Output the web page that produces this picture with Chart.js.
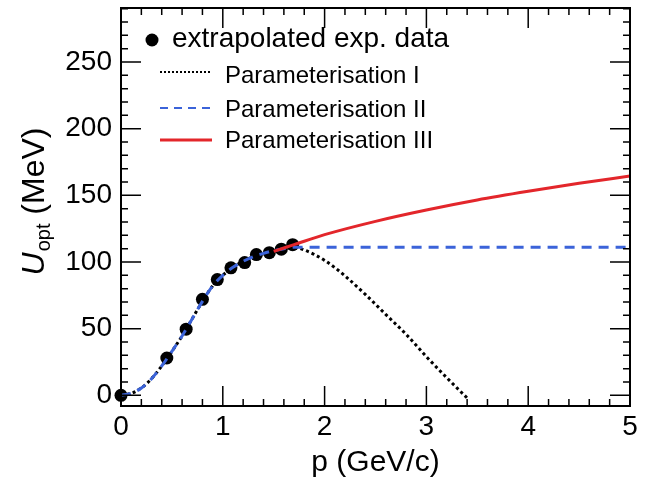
<!DOCTYPE html>
<html>
<head>
<meta charset="utf-8">
<script src="https://cdn.jsdelivr.net/npm/chart.js@4"></script>
<style>
html, body { margin: 0; padding: 0; background: #fff; }
</style>
</head>
<body>
<canvas id="myChart" width="651" height="484"></canvas>
<script>
var fontName = "'Liberation Sans', Helvetica, Arial, sans-serif";
var blueColor = "#3b63d9";
var redColor = "#e3262b";

// extrapolated experimental points
var expP = [0, 0.45, 0.64, 0.80, 0.946, 1.08, 1.215, 1.33, 1.457, 1.575, 1.686];
var expU = [0, 28, 49.6, 72, 86.8, 95.6, 99.6, 105.6, 107, 109.6, 113];

// common part of parameterisations I and II (p < 1.7)
var lowP = [0, 0.1, 0.2, 0.3, 0.4, 0.5, 0.6, 0.7, 0.8, 0.9, 1.0, 1.1, 1.2, 1.3, 1.4, 1.5, 1.6, 1.7];
var lowU = [0, 1.5, 5.5, 12.5, 22, 33, 44.5, 57.5, 70.5, 82, 90, 96, 100.5, 104, 106.5, 108.5, 110, 111];

// parameterisation I, falling part
var par1P = [1.75, 1.8, 1.9, 2.0, 2.1, 2.2, 2.4, 2.6, 2.8, 3.0, 3.2, 3.4];
var par1U = [110.3, 109, 105.6, 101.2, 95.8, 89.6, 75.7, 60.7, 45.8, 29, 13.2, -2];

// parameterisation II, flat part
var par2P = [3.0, 5.0];
var par2U = [111, 111];

// parameterisation III
var par3P = [1.5, 1.7, 2.0, 2.5, 3.0, 3.5, 4.0, 4.5, 5.0];
var par3U = [108, 113, 120.5, 130.5, 139, 146.5, 153, 159, 164.5];

var xTicks = [0, 1, 2, 3, 4, 5];
var yTicks = [0, 50, 100, 150, 200, 250];

function toXY(xs, ys) {
    return xs.map(function (x, i) { return { x: x, y: ys[i] }; });
}

var framePlugin = {
    id: "frame",
    afterDraw: function (chart) {
        var ctx = chart.ctx;
        var a = chart.chartArea;
        var sx = chart.scales.x;
        var sy = chart.scales.y;
        ctx.save();
        ctx.strokeStyle = "#000";
        ctx.lineWidth = 1.5;
        ctx.beginPath();
        // x ticks, every 0.2, major every 1
        for (var i = 0; i <= 25; i++) {
            var px = sx.getPixelForValue(i * 0.2);
            var len = (i % 5 === 0) ? 20 : 7;
            ctx.moveTo(px, a.bottom); ctx.lineTo(px, a.bottom - len);
            ctx.moveTo(px, a.top); ctx.lineTo(px, a.top + len);
        }
        // y ticks, every 10, major every 50
        for (var j = 0; j <= 29; j++) {
            var py = sy.getPixelForValue(j * 10);
            var len2 = (j % 5 === 0) ? 20 : 7;
            ctx.moveTo(a.left, py); ctx.lineTo(a.left + len2, py);
            ctx.moveTo(a.right, py); ctx.lineTo(a.right - len2, py);
        }
        ctx.stroke();
        ctx.lineWidth = 2;
        ctx.strokeRect(a.left, a.top, a.right - a.left, a.bottom - a.top);

        // legend
        ctx.fillStyle = "#000";
        ctx.beginPath();
        ctx.arc(152, 40, 6.5, 0, Math.PI * 2);
        ctx.fill();
        ctx.textBaseline = "alphabetic";
        ctx.textAlign = "left";
        ctx.font = "28px " + fontName;
        ctx.fillText("extrapolated exp. data", 172, 47);

        ctx.font = "24px " + fontName;
        ctx.lineWidth = 2;
        ctx.setLineDash([2, 2]);
        ctx.beginPath(); ctx.moveTo(160, 72); ctx.lineTo(211, 72); ctx.stroke();
        ctx.fillText("Parameterisation I", 225, 83);

        ctx.strokeStyle = blueColor;
        ctx.setLineDash([8, 6]);
        ctx.beginPath(); ctx.moveTo(160, 108); ctx.lineTo(212, 108); ctx.stroke();
        ctx.fillText("Parameterisation II", 225, 117);

        ctx.strokeStyle = redColor;
        ctx.lineWidth = 3;
        ctx.setLineDash([]);
        ctx.beginPath(); ctx.moveTo(160, 140); ctx.lineTo(212, 140); ctx.stroke();
        ctx.fillText("Parameterisation III", 225, 148);

        // y axis title with subscript
        var mainFont = "32px " + fontName;
        var itFont = "italic 32px " + fontName;
        var subFont = "20px " + fontName;
        ctx.font = itFont; var wU = ctx.measureText("U").width;
        ctx.font = subFont; var wS = ctx.measureText("opt").width;
        ctx.font = mainFont; var wR = ctx.measureText(" (MeV)").width;
        var total = wU + wS + wR;
        ctx.translate(44, 202);
        ctx.rotate(-Math.PI / 2);
        var x0 = -total / 2;
        ctx.font = itFont; ctx.fillText("U", x0, 0);
        ctx.font = subFont; ctx.fillText("opt", x0 + wU + 1, 6);
        ctx.font = mainFont; ctx.fillText(" (MeV)", x0 + wU + wS + 1, 0);
        ctx.restore();
    }
};

new Chart("myChart", {
    type: "scatter",
    data: {
        datasets: [
            {
                label: "Parameterisation III",
                data: toXY(par3P, par3U),
                showLine: true,
                borderColor: redColor,
                borderWidth: 3,
                pointRadius: 0,
                cubicInterpolationMode: "monotone",
                order: 1,
            },
            {
                label: "Parameterisation II",
                data: toXY(lowP.concat(par2P), lowU.concat(par2U)),
                showLine: true,
                borderColor: blueColor,
                borderWidth: 3,
                borderDash: [10, 7],
                pointRadius: 0,
                cubicInterpolationMode: "monotone",
                order: 2,
            },
            {
                label: "Parameterisation I",
                data: toXY(lowP.concat(par1P), lowU.concat(par1U)),
                showLine: true,
                borderColor: "#000",
                borderWidth: 3,
                borderDash: [3, 3],
                pointRadius: 0,
                cubicInterpolationMode: "monotone",
                order: 3,
            },
            {
                label: "extrapolated exp. data",
                data: toXY(expP, expU),
                showLine: false,
                backgroundColor: "#000",
                borderWidth: 0,
                pointRadius: 6.5,
                clip: false,
                order: 4,
            },
        ],
    },
    options: {
        responsive: false,
        animation: false,
        layout: { padding: { left: 0, right: 21, top: 8, bottom: 0 } },
        plugins: {
            legend: { display: false },
            tooltip: { enabled: false },
        },
        scales: {
            x: {
                type: "linear",
                min: 0,
                max: 5,
                afterFit: function (s) { s.height = 78; s.paddingLeft = 0; s.paddingRight = 0; },
                afterBuildTicks: function (s) { s.ticks = xTicks.map(function (v) { return { value: v }; }); },
                grid: { display: false, drawTicks: false },
                border: { display: false },
                ticks: { color: "#000", font: { family: fontName, size: 28 }, padding: 4, maxRotation: 0 },
                title: {
                    display: true,
                    text: "p (GeV/c)",
                    color: "#000",
                    font: { family: fontName, size: 30 },
                    padding: { top: 0, bottom: 3 },
                },
            },
            y: {
                type: "linear",
                min: -8,
                max: 290.5,
                afterFit: function (s) { s.width = 121; s.paddingTop = 0; s.paddingBottom = 0; },
                afterBuildTicks: function (s) { s.ticks = yTicks.map(function (v) { return { value: v }; }); },
                grid: { display: false, drawTicks: false },
                border: { display: false },
                ticks: { color: "#000", font: { family: fontName, size: 28 }, padding: 9 },
            },
        },
    },
    plugins: [framePlugin],
});
</script>
</body>
</html>
